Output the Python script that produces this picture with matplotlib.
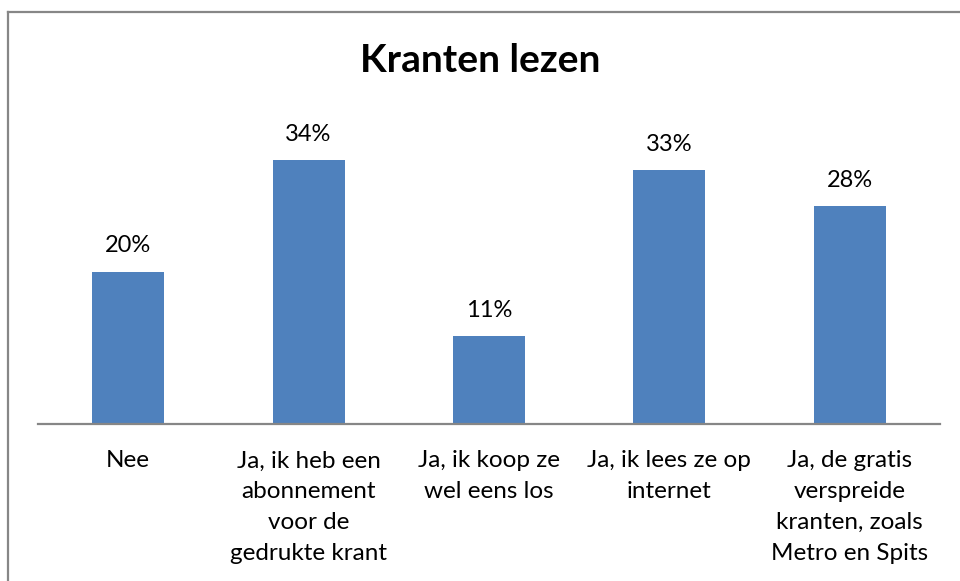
import matplotlib.pyplot as plt
from matplotlib.lines import Line2D

plt.rcParams['font.family'] = ['Lato', 'DejaVu Sans']

# data
categories = ["Nee",
              "Ja, ik heb een\nabonnement\nvoor de\ngedrukte krant",
              "Ja, ik koop ze\nwel eens los",
              "Ja, ik lees ze op\ninternet",
              "Ja, de gratis\nverspreide\nkranten, zoals\nMetro en Spits"]
values = [19.8, 34.3, 11.4, 33.0, 28.3]
labels = ["20%", "34%", "11%", "33%", "28%"]

W, H = 960, 581
fig = plt.figure(figsize=(W / 100, H / 100), dpi=100)
fig.patch.set_facecolor("white")

# chart frame (only top and left edges visible in the crop)
fig.add_artist(Line2D([8 / W, 8 / W], [0, 1 - 12 / H], transform=fig.transFigure, color="#878787", lw=1.6))
fig.add_artist(Line2D([8 / W, 1], [1 - 12 / H, 1 - 12 / H], transform=fig.transFigure, color="#878787", lw=1.6))

base = 424
ax = fig.add_axes([38 / W, (H - base) / H, 902 / W, 308 / H])
x = range(len(categories))
bars = ax.bar(x, values, width=0.4, color="#4F81BD", zorder=2)
ax.set_xlim(-0.5, len(categories) - 0.5)
ax.set_ylim(0, 40)

for rect, lab in zip(bars, labels):
    ax.annotate(lab, (rect.get_x() + rect.get_width() / 2, rect.get_height()),
                xytext=(0, 18.5), textcoords="offset points", ha="center", va="center",
                fontsize=17, color="black")

ax.set_xticks(list(x))
ax.set_xticklabels(categories, fontsize=17.5, linespacing=1.58, va="top")
ax.tick_params(axis="x", length=0, pad=19)
ax.set_yticks([])
for s in ["top", "right", "left"]:
    ax.spines[s].set_visible(False)
ax.spines["bottom"].set_color("#868686")
ax.spines["bottom"].set_linewidth(1.6)
ax.patch.set_alpha(0)

fig.text(0.5, 1 - 61 / H, "Kranten lezen", ha="center", va="center",
         fontsize=28, fontweight="bold")

fig.savefig("out.png", dpi=100)
